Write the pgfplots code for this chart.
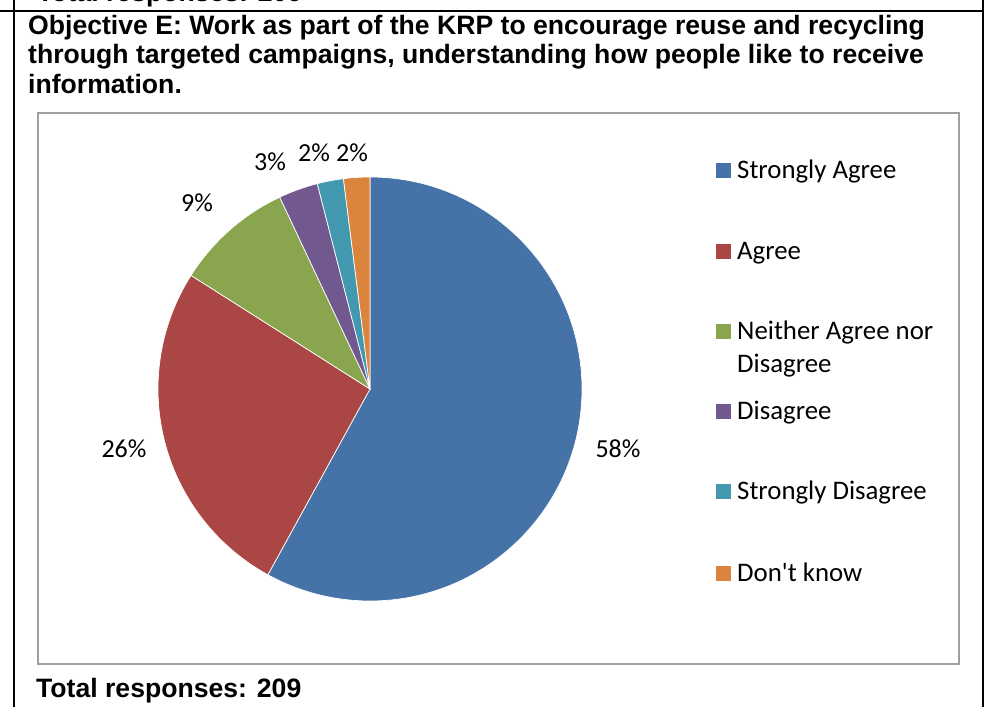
\documentclass[border=0pt]{standalone}
\usepackage{pgfplots}
\pgfplotsset{compat=1.18}
\usepackage{pgfplotstable}
\usepackage{fontspec}
\setmainfont{Liberation Sans}
\newfontfamily\calibri{Carlito}

\definecolor{cSA}{HTML}{4572A7}
\definecolor{cA}{HTML}{AA4643}
\definecolor{cN}{HTML}{89A54E}
\definecolor{cD}{HTML}{71588F}
\definecolor{cSD}{HTML}{4198AF}
\definecolor{cDK}{HTML}{DB843D}

% share of answers (%), slice colour, label position (pixels of the page)
\pgfplotstableread{
pct color lx  ly
58  cSA   618 249
26  cA    124 249
9   cN    197 495
3   cD    270 536
2   cSD   314 545
2   cDK   352 545
}\piedata

% legend: colour, baseline of the entry (last line), text
\pgfplotstableread[col sep=comma]{
color,y,name
cSA,528,Strongly Agree
cA,447,Agree
cN,334,Neither Agree nor\\Disagree
cD,287,Disagree
cSD,207,Strongly Disagree
cDK,125,Don't know
}\legdata

\tikzset{
  pielabel/.style={font=\calibri\fontsize{26}{31}\selectfont, inner sep=0pt},
  legtext/.style={font=\calibri\fontsize{26.8}{33}\selectfont, inner sep=0pt, align=left},
  headfont/.style={font=\bfseries\fontsize{26.6}{30}\selectfont, inner sep=0pt},
}

\begin{document}
\begin{tikzpicture}
\useasboundingbox (0,0) rectangle (995pt,707pt);
\begin{axis}[
  at={(0,0)}, anchor=origin,
  width=995pt, height=707pt, scale only axis,
  xmin=0, xmax=995, ymin=0, ymax=707,
  hide axis, clip=false,
]
  % frame of the surrounding table
  \draw[line width=2pt] (axis cs:14,0) -- (axis cs:14,707);
  \draw[line width=2pt] (axis cs:983,0) -- (axis cs:983,707);
  \draw[line width=2pt] (axis cs:0,696) -- (axis cs:983,696);
  \node[headfont, anchor=base west] at (axis cs:37,705.5) {Total responses: 209};

  \node[headfont, anchor=base west] at (axis cs:28,672) {Objective E: Work as part of the KRP to encourage reuse and recycling};
  \node[headfont, anchor=base west] at (axis cs:28,643) {through targeted campaigns, understanding how people like to receive};
  \node[headfont, anchor=base west] at (axis cs:28,613) {information.};

  % chart area
  \draw[gray!75, line width=1.3pt] (axis cs:38,43) rectangle (axis cs:959,594);

  % slices
  \pgfplotstablegetrowsof{\piedata}
  \pgfmathtruncatemacro\nrows{\pgfplotsretval-1}
  \def\angA{90}
  \pgfplotsforeachungrouped \i in {0,...,\nrows}{
    \pgfplotstablegetelem{\i}{pct}\of\piedata \let\pct\pgfplotsretval
    \pgfplotstablegetelem{\i}{color}\of\piedata \let\col\pgfplotsretval
    \pgfplotstablegetelem{\i}{lx}\of\piedata \let\lx\pgfplotsretval
    \pgfplotstablegetelem{\i}{ly}\of\piedata \let\ly\pgfplotsretval
    \pgfmathsetmacro\angB{\angA-3.6*\pct}
    \edef\temp{%
      \noexpand\fill[fill=\col, draw=white, line width=0.7pt]
        (axis cs:370,318) -- ++(\angA:212pt)
        arc[start angle=\angA, end angle=\angB, radius=212pt] -- cycle;
      \noexpand\node[pielabel, anchor=base] at (axis cs:\lx,\ly) {\pct\noexpand\%};
    }\temp
    \let\angA\angB
  }

  % legend
  \pgfplotstablegetrowsof{\legdata}
  \pgfmathtruncatemacro\nleg{\pgfplotsretval-1}
  \pgfplotsforeachungrouped \i in {0,...,\nleg}{
    \pgfplotstablegetelem{\i}{color}\of\legdata \let\col\pgfplotsretval
    \pgfplotstablegetelem{\i}{y}\of\legdata \let\ly\pgfplotsretval
    \pgfplotstablegetelem{\i}{name}\of\legdata \let\nm\pgfplotsretval
    \pgfmathsetmacro\sqlo{\ly+1}
    \pgfmathsetmacro\sqhi{\ly+16}
    \ifnum\i=2
      \pgfmathsetmacro\sqlo{\ly+34}
      \pgfmathsetmacro\sqhi{\ly+49}
    \fi
    \edef\temp{%
      \noexpand\fill[fill=\col] (axis cs:716,\sqlo) rectangle (axis cs:731,\sqhi);
      \noexpand\node[legtext, anchor=base west] at (axis cs:737,\ly) {\expandafter\unexpanded\expandafter{\nm}};
    }\temp
  }

  \node[headfont, anchor=base west] at (axis cs:36,10) {Total responses: 209};
\end{axis}
\end{tikzpicture}
\end{document}
